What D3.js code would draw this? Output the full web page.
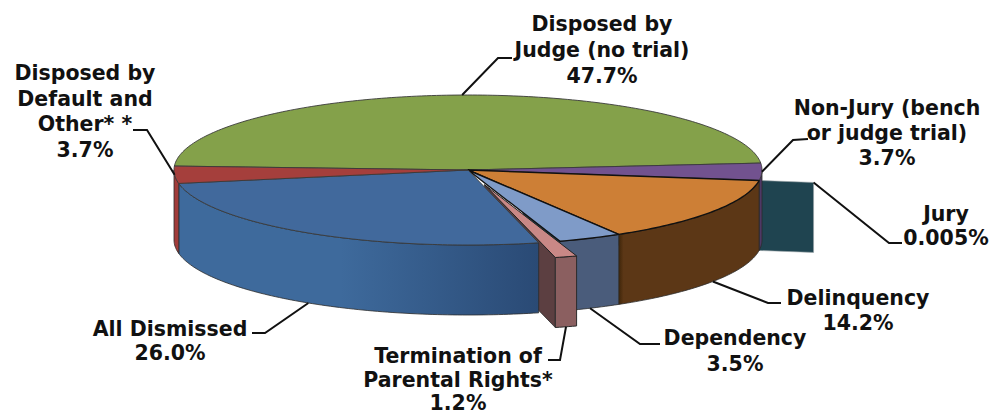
<!DOCTYPE html>
<html>
<head>
<meta charset="utf-8">
<script src="https://cdn.jsdelivr.net/npm/d3@7"></script>
<style>
  html, body { margin: 0; padding: 0; background: #fff; }
  text { font-family: "DejaVu Sans", Verdana, sans-serif; font-weight: bold; font-size: 20.5px; fill: #111; }
</style>
</head>
<body>
<div id="chart-area"></div>
<script>
// data, clockwise from the left edge of the pie
var categories = [
    "Disposed by Judge (no trial)",
    "Non-Jury (bench or judge trial)",
    "Jury",
    "Delinquency",
    "Dependency",
    "Termination of Parental Rights*",
    "All Dismissed",
    "Disposed by Default and Other**"
];
var values = [47.7, 3.7, 0.005, 14.2, 3.5, 1.2, 26.0, 3.7];
var valueLabels = ["47.7%", "3.7%", "0.005%", "14.2%", "3.5%", "1.2%", "26.0%", "3.7%"];

// look of the slices
var topColors = ["#84a14a", "#72528f", "#1f4450", "#cd7f36", "#7f9bc8", "#c98886", "#41699c", "#a53f3c"];
var sideColors = [
    ["#5f7535", "#5f7535"],
    ["#4e3866", "#4e3866"],
    ["#1f4450", "#1f4450"],
    ["#3f2509", "#5c3716", "#5c3716"],
    ["#4a5c7b", "#4a5c7b"],
    ["#8b5f60", "#8b5f60"],
    ["#3e6a9c", "#3e6a9c", "#2a4a75"],
    ["#a13c3a", "#a13c3a"]
];
var explode = [0, 0, 55, 0, 0, 60, 0, 0];

// label text lines and leader elbows
var labelLines = [
    ["Disposed by", "Judge (no trial)"],
    ["Non-Jury (bench", "or judge trial)"],
    ["Jury"],
    ["Delinquency"],
    ["Dependency"],
    ["Termination of", "Parental Rights*"],
    ["All Dismissed"],
    ["Disposed by", "Default and", "Other* *"]
];
var labelPos = [
    {x: 602, y: 31, dy: 26},
    {x: 887, y: 115, dy: 25},
    {x: 946, y: 221, dy: 24},
    {x: 858, y: 305, dy: 25},
    {x: 735, y: 345, dy: 26},
    {x: 458, y: 363, dy: 23.5},
    {x: 170, y: 336, dy: 24},
    {x: 85, y: 80, dy: 25.5}
];
var leaderBends = [
    [[498, 58], [512, 58]],
    [[793, 140], [808, 139]],
    [[889, 243], [902, 243]],
    [[768, 303], [781, 303]],
    [[640, 344], [660, 344]],
    [[560, 360], [548, 360]],
    [[265, 333], [252, 333]],
    [[147, 130], [133, 130]]
];

var width = 995, height = 414;
var cx = 468, cy = 170, rx = 294, ry = 75, depth = 70;
var deg = Math.PI / 180;

var svg = d3.select("#chart-area")
    .append("svg")
        .attr("width", width)
        .attr("height", height)
        .style("display", "block");

var pie = d3.pie().sort(null).value(function(d) { return d; })
    .startAngle(-87 * deg)
    .endAngle(273 * deg);
var slices = pie(values);

// screen position of a point on the tilted pie, a is clockwise from the top
function project(a, r, out, down) {
    var mid = out ? (out.startAngle + out.endAngle) / 2 : 0;
    var e = out ? explode[out.index] : 0;
    return [
        cx + (r * Math.sin(a) + e * Math.sin(mid)),
        cy - (r * Math.cos(a) + e * Math.cos(mid)) * ry / rx + (down || 0)
    ];
}

function arcPoints(a0, a1, r, s, down) {
    var n = Math.max(2, Math.ceil((a1 - a0) / deg));
    return d3.range(n + 1).map(function(i) {
        return project(a0 + (a1 - a0) * i / n, r, s, down);
    });
}

var line = d3.line();

function topPath(s) {
    var apex = project(0, 0, s);
    return line([apex].concat(arcPoints(s.startAngle, s.endAngle, rx, s))) + "Z";
}

// outer wall, only the part that faces the viewer
function wallPath(s) {
    var a0 = Math.max(s.startAngle, 90 * deg), a1 = Math.min(s.endAngle, 270 * deg);
    if (a1 <= a0) return null;
    var t = arcPoints(a0, a1, rx, s, 0);
    var b = arcPoints(a0, a1, rx, s, depth).reverse();
    return line(t.concat(b)) + "Z";
}

// radial cut face of an exploded slice
function cutPath(s, a) {
    var p0 = project(0, 0, s), p1 = project(a, rx, s);
    return line([p0, p1, [p1[0], p1[1] + depth], [p0[0], p0[1] + depth]]) + "Z";
}

var defs = svg.append("defs");
slices.forEach(function(s) {
    var a0 = Math.max(s.startAngle, 90 * deg), a1 = Math.min(s.endAngle, 270 * deg);
    if (a1 <= a0) return;
    var xs = [project(a0, rx, s)[0], project(a1, rx, s)[0]];
    var g = defs.append("linearGradient")
        .attr("id", "wall" + s.index)
        .attr("gradientUnits", "userSpaceOnUse")
        .attr("x1", d3.min(xs)).attr("x2", d3.max(xs))
        .attr("y1", 0).attr("y2", 0);
    var cols = sideColors[s.index];
    if (s.index === 3) {
        // dark seam at the left of the delinquency wall
        cols.forEach(function(c, i) {
            g.append("stop").attr("offset", [0, 0.035, 1][i]).attr("stop-color", c);
        });
    } else if (s.index === 6) {
        cols.forEach(function(c, i) {
            g.append("stop").attr("offset", [0, 0.45, 1][i]).attr("stop-color", c);
        });
    } else {
        cols.forEach(function(c, i) {
            g.append("stop").attr("offset", i).attr("stop-color", c);
        });
    }
});

var jury = slices[2], termination = slices[5];
var rimColor = "#2b2b2b";

// jury wall sits behind everything
svg.append("path")
    .attr("d", cutPath(jury, jury.startAngle))
    .attr("fill", topColors[2])
    .attr("stroke", "#9aa5a8")
    .attr("stroke-width", 0.6);

// left cut face of the termination slice, the blue body covers most of it
svg.append("path")
    .attr("d", cutPath(termination, termination.endAngle))
    .attr("fill", "#5c3f41")
    .attr("stroke", rimColor)
    .attr("stroke-width", 0.8);

var body = slices.filter(function(s) { return s.index !== 2 && s.index !== 5; });

svg.selectAll("path.wall")
    .data(body.filter(function(s) { return wallPath(s); }))
    .enter()
    .append("path")
        .attr("class", "wall")
        .attr("d", wallPath)
        .attr("fill", function(s) { return "url(#wall" + s.index + ")"; })
        .attr("stroke", rimColor)
        .attr("stroke-width", 0.8);

svg.selectAll("path.top")
    .data(body)
    .enter()
    .append("path")
        .attr("class", "top")
        .attr("d", topPath)
        .attr("fill", function(s) { return topColors[s.index]; })
        .attr("stroke", function(s) { return s.index === 3 || s.index === 4 ? "#111" : "#3a3a3a"; })
        .attr("stroke-width", function(s) { return s.index === 3 || s.index === 4 ? 1.4 : 0.9; })
        .attr("stroke-linejoin", "round");

// termination slice goes on top
svg.append("path")
    .attr("d", wallPath(termination))
    .attr("fill", "url(#wall5)")
    .attr("stroke", rimColor)
    .attr("stroke-width", 1);
svg.append("path")
    .attr("d", topPath(termination))
    .attr("fill", topColors[5])
    .attr("stroke", "#222")
    .attr("stroke-width", 1)
    .attr("stroke-linejoin", "round");

// leader lines start on the rim of each slice
function leaderStart(s) {
    var mid = (s.startAngle + s.endAngle) / 2;
    if (s.index === 2) return project(s.startAngle, rx, s);
    var frontWall = mid > 100 * deg && mid < 260 * deg;
    return project(mid, rx, s, frontWall ? depth : 0);
}

svg.selectAll("path.leader")
    .data(slices)
    .enter()
    .append("path")
        .attr("class", "leader")
        .attr("d", function(s) { return line([leaderStart(s)].concat(leaderBends[s.index])); })
        .attr("fill", "none")
        .attr("stroke", "#111")
        .attr("stroke-width", 2);

var labels = svg.selectAll("text.label")
    .data(slices)
    .enter()
    .append("text")
        .attr("class", "label")
        .attr("text-anchor", "middle");

labels.selectAll("tspan")
    .data(function(s) {
        var p = labelPos[s.index];
        return labelLines[s.index].concat(valueLabels[s.index]).map(function(t, i) {
            return {t: t, x: p.x, y: p.y + i * p.dy};
        });
    })
    .enter()
    .append("tspan")
        .attr("x", function(d) { return d.x; })
        .attr("y", function(d) { return d.y; })
        .text(function(d) { return d.t; });
</script>
</body>
</html>
